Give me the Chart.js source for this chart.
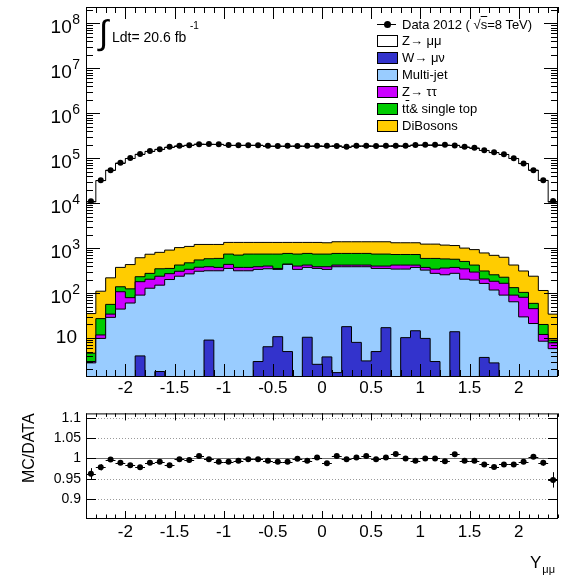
<!DOCTYPE html>
<html>
<head>
<meta charset="utf-8">
<script src="https://cdn.jsdelivr.net/npm/chart.js@4.4.1/dist/chart.umd.min.js"></script>
<style>
  body { margin: 0; background: #fff; font-family: "Liberation Sans", Arial, Helvetica, sans-serif; }
  #wrap { position: relative; width: 562px; height: 580px; overflow: hidden; }
  #mainPlot { position: absolute; left: 0; top: 0; }
  #ratioPlot { position: absolute; left: 0; top: 400px; }
  .txt { position: absolute; white-space: nowrap; color: #000; }
  .entry { position: absolute; left: 377px; height: 17px; width: 180px; font-size: 13px; }
  .entry .box { position: absolute; left: 0; top: 3px; width: 19px; height: 10px; border: 1px solid #000; }
  .entry .lbl { position: absolute; left: 25px; top: 0; line-height: 17px; }
  .ol { text-decoration: overline; }
</style>
</head>
<body>
<div id="wrap">
  <canvas id="mainPlot" width="562" height="400"></canvas>
  <canvas id="ratioPlot" width="562" height="180"></canvas>

  <div class="txt" style="left:99px; top:12px; font-size:34px; line-height:40px;">&#8747;</div>
  <div class="txt" style="left:112px; top:29px; font-size:14px; line-height:17px;">Ldt= 20.6 fb</div>
  <div class="txt" style="left:190px; top:20px; font-size:10px; line-height:12px;">-1</div>

  <div class="entry" style="top:16px;">
    <div style="position:absolute; left:0; top:8px; width:19px; height:1px; background:#000;"></div>
    <div style="position:absolute; left:7px; top:5px; width:7px; height:7px; border-radius:50%; background:#000;"></div>
    <div class="lbl">Data 2012 ( &#8730;<span class="ol">s</span>=8 TeV)</div>
  </div>
  <div class="entry" style="top:32px;"><div class="box" style="background:#ffffff;"></div><div class="lbl">Z&#8594; &#956;&#956;</div></div>
  <div class="entry" style="top:49px;"><div class="box" style="background:#3333cc;"></div><div class="lbl">W&#8594; &#956;&#957;</div></div>
  <div class="entry" style="top:66px;"><div class="box" style="background:#99ccff;"></div><div class="lbl">Multi-jet</div></div>
  <div class="entry" style="top:83px;"><div class="box" style="background:#cc00ff;"></div><div class="lbl">Z&#8594; &#964;&#964;</div></div>
  <div class="entry" style="top:100px;"><div class="box" style="background:#00cc00;"></div><div class="lbl">t<span class="ol">t</span>&amp; single top</div></div>
  <div class="entry" style="top:117px;"><div class="box" style="background:#ffcc00;"></div><div class="lbl">DiBosons</div></div>

  <div class="txt" style="left:530px; top:553px; font-size:17px; line-height:20px;">Y<span style="font-size:11px; position:relative; top:5px; margin-left:1px;">&#956;&#956;</span></div>
</div>

<script>
// Y(mumu) binning: 48 bins of 0.1 between -2.4 and 2.4
const rapidityBins = [-2.4, -2.3, -2.2, -2.1, -2.0, -1.9, -1.8, -1.7, -1.6, -1.5, -1.4, -1.3, -1.2, -1.1, -1.0, -0.9,
  -0.8, -0.7, -0.6, -0.5, -0.4, -0.3, -0.2, -0.1, 0, 0.1, 0.2, 0.3, 0.4, 0.5, 0.6, 0.7, 0.8, 0.9, 1.0, 1.1, 1.2,
  1.3, 1.4, 1.5, 1.6, 1.7, 1.8, 1.9, 2.0, 2.1, 2.2, 2.3, 2.4];

const dataCounts = [11070, 32400, 54100, 78700, 100200, 124500, 143400, 158700, 178300, 187600, 194800, 204100,
  205200, 204300, 195000, 194200, 193900, 194700, 188400, 187500, 188200, 187300, 188000, 187700,
  188100, 187400, 178900, 187800, 188300, 187200, 188000, 187600, 188500, 197200, 198100, 197500,
  197900, 191300, 178900, 169500, 150900, 135600, 122900, 100100, 76300, 54000, 32300, 11090];

const zmumu = [10610, 31580, 53720, 77460, 97870, 121350, 140900, 156430, 174660, 186500, 192630, 204620,
  202990, 201760, 191610, 192000, 192770, 192770, 185440, 185060, 185060, 186380, 185440, 186940,
  184330, 187640, 176860, 186890, 187640, 186140, 186890, 188650, 186590, 195200, 196470, 196470,
  195150, 191770, 176530, 167860, 147660, 132260, 120240, 98080, 75280, 54080, 31930, 10450];

const wmunu = [0, 0, 0, 0, 0, 4.0, 0, 1.8, 0, 0, 0, 0, 9.0, 0, 0, 0, 0, 3.0, 6.4, 10.7, 5.0, 0, 10.4, 2.6,
  3.8, 1.7, 17.9, 8.0, 3.1, 5.0, 17.0, 0, 10.2, 14.5, 9.8, 3.0, 0, 13.8, 0, 0, 3.7, 2.8, 0, 0, 0, 0, 0, 0];

const multijet = [2.8, 9.8, 28.8, 44, 60, 86, 128, 148, 200, 237, 267, 305, 304, 313, 353, 313, 313, 333, 341,
  325, 429, 336, 362, 350, 332, 383, 367, 377, 382, 348, 336, 341, 331, 357, 314, 271, 255, 261, 203, 194,
  160, 114, 90, 64, 29.5, 21, 8.5, 5.8];

const ztautau = [0.2, 1.9, 5.2, 63, 19, 89, 75, 87, 70, 68, 71, 70, 72, 59, 81, 59, 59, 49, 51, 17, 7, 62, 47,
  32, 49, 34, 34, 34, 34, 45, 45, 78, 78, 47, 48, 67, 105, 97, 142, 99, 42, 66, 75, 26, 51, 24, 3.5, 2.0];

const ttbar = [1.6, 15.3, 22, 31, 45, 52, 71, 110, 83, 115, 132, 170, 195, 218, 302, 327, 364, 351, 338, 383,
  320, 338, 342, 351, 351, 342, 342, 342, 342, 338, 338, 301, 301, 301, 217, 248, 215, 193, 160, 126, 104,
  72, 60, 42, 23, 14, 8, 1.2];

const diboson = [30.4, 83, 162, 234, 306, 379, 456, 457, 550, 605, 620, 660, 625, 615, 601, 638, 601, 601, 601,
  601, 576, 601, 576, 601, 578, 622, 622, 622, 622, 647, 647, 594, 594, 594, 638, 638, 591, 575, 495, 506,
  470, 435, 400, 288, 206, 178, 94, 25];

// MC/DATA per bin and its uncertainty
const ratio = [0.962, 0.978, 0.997, 0.989, 0.983, 0.978, 0.989, 0.992, 0.983, 0.998, 0.996, 1.006, 0.998, 0.992,
  0.992, 0.994, 0.998, 0.998, 0.994, 0.992, 0.992, 0.999, 0.994, 1.002, 0.988, 1.006, 0.998, 1.002, 1.006,
  0.998, 1.002, 1.011, 1.000, 0.994, 1.000, 1.000, 0.993, 1.010, 0.994, 0.994, 0.985, 0.979, 0.985, 0.985,
  0.992, 1.004, 0.989, 0.947];

const ratioErr = [0.014, 0.0075, 0.005, 0.004, 0.0035, 0.003, 0.003, 0.003, 0.003, 0.0025, 0.0025, 0.0025,
  0.0025, 0.0025, 0.0025, 0.0025, 0.0025, 0.0025, 0.0025, 0.0025, 0.0025, 0.0025, 0.0025, 0.0025, 0.0025,
  0.0025, 0.0025, 0.0025, 0.0025, 0.0025, 0.0025, 0.0025, 0.0025, 0.0025, 0.0025, 0.0025, 0.0025, 0.0025,
  0.0025, 0.0025, 0.0025, 0.0025, 0.003, 0.003, 0.0035, 0.005, 0.007, 0.019];

const xTickValues = [-2, -1.5, -1, -0.5, 0, 0.5, 1, 1.5, 2];
const yTickValues = [10, 1e2, 1e3, 1e4, 1e5, 1e6, 1e7, 1e8];
const ratioTickValues = [0.9, 0.95, 1, 1.05, 1.1];

const FONT = '"Liberation Sans", Arial, Helvetica, sans-serif';

const binCenters = rapidityBins.slice(0, -1).map((lo, i) => (lo + rapidityBins[i + 1]) / 2);

// histogram outline: one point per lower bin edge, plus the last upper edge
function stepSeries(values) {
  const pts = values.map((v, i) => ({ x: rapidityBins[i], y: v > 0 ? v : 1e-3 }));
  pts.push({ x: rapidityBins[values.length], y: pts[pts.length - 1].y });
  return pts;
}

function histLayer(values, color) {
  return {
    data: stepSeries(values),
    backgroundColor: color,
    borderColor: '#000',
    borderWidth: 1,
    fill: 'start',
    stepped: 'before',
    pointRadius: 0,
    pointHoverRadius: 0,
    clip: 0
  };
}

function markers(values) {
  return {
    data: binCenters.map((x, i) => ({ x: x, y: values[i] })),
    stack: 'data',
    showLine: false,
    pointRadius: 3,
    pointHoverRadius: 0,
    pointBorderWidth: 0,
    pointBackgroundColor: '#000'
  };
}

// ROOT-like frame: box, inward ticks on all four sides, optional reference lines
const histFrame = {
  id: 'histFrame',
  beforeDatasetsDraw(chart, args, opts) {
    if (!opts.grid) return;
    const { ctx, chartArea: a } = chart;
    const ys = chart.scales.y;
    ctx.save();
    opts.grid.forEach(v => {
      const py = Math.round(ys.getPixelForValue(v)) + 0.5;
      ctx.beginPath();
      ctx.lineWidth = 1;
      ctx.strokeStyle = v === 1 ? '#707070' : '#9a9a9a';
      ctx.setLineDash(v === 1 ? [] : [1, 2]);
      ctx.moveTo(a.left, py);
      ctx.lineTo(a.right, py);
      ctx.stroke();
    });
    ctx.restore();
  },
  afterDraw(chart, args, opts) {
    const { ctx, chartArea: a } = chart;
    const xs = chart.scales.x, ys = chart.scales.y;
    ctx.save();
    ctx.strokeStyle = '#000';
    ctx.lineWidth = 1;
    ctx.beginPath();

    const xTick = (v, len) => {
      const px = Math.round(xs.getPixelForValue(v)) + 0.5;
      ctx.moveTo(px, a.bottom); ctx.lineTo(px, a.bottom - len);
      ctx.moveTo(px, a.top); ctx.lineTo(px, a.top + len);
    };
    const yTick = (v, len) => {
      const py = Math.round(ys.getPixelForValue(v)) + 0.5;
      ctx.moveTo(a.left, py); ctx.lineTo(a.left + len, py);
      ctx.moveTo(a.right, py); ctx.lineTo(a.right - len, py);
    };

    opts.xMinor.forEach(v => xTick(v, opts.xMinorLen));
    opts.xMajor.forEach(v => xTick(v, opts.xMajorLen));

    if (opts.logY) {
      const k0 = Math.floor(Math.log10(ys.min)), k1 = Math.ceil(Math.log10(ys.max));
      for (let k = k0; k <= k1; k++) {
        for (let m = 1; m <= 9; m++) {
          const v = m * Math.pow(10, k);
          if (v < ys.min || v > ys.max) continue;
          yTick(v, m === 1 ? opts.yMajorLen : opts.yMinorLen);
        }
      }
    } else {
      opts.yMajor.forEach(v => yTick(v, opts.yMajorLen));
    }
    ctx.stroke();

    ctx.strokeRect(a.left + 0.5, a.top + 0.5, a.right - a.left - 1, a.bottom - a.top);

    // powers of ten on the log axis
    if (opts.powerLabels) {
      ctx.fillStyle = '#000';
      ctx.textBaseline = 'middle';
      ctx.textAlign = 'right';
      const edge = a.left - 6;
      opts.powerLabels.forEach(v => {
        const py = ys.getPixelForValue(v);
        const k = Math.round(Math.log10(v));
        if (k === 1) {
          ctx.font = '19px ' + FONT;
          ctx.fillText('10', edge - 3, py);
          return;
        }
        ctx.font = '14px ' + FONT;
        const ew = ctx.measureText(String(k)).width;
        ctx.fillText(String(k), edge, py - 3);
        ctx.font = '19px ' + FONT;
        ctx.fillText('10', edge - ew - 0.5, py + 4.5);
      });
    }
    ctx.restore();
  }
};

// horizontal bars over the bin width, vertical bars from the uncertainty
const errorBars = {
  id: 'errorBars',
  afterDatasetsDraw(chart, args, opts) {
    const { ctx } = chart;
    const xs = chart.scales.x, ys = chart.scales.y;
    ctx.save();
    ctx.strokeStyle = '#000';
    ctx.lineWidth = 1;
    ctx.beginPath();
    opts.values.forEach((v, i) => {
      const py = Math.round(ys.getPixelForValue(v)) + 0.5;
      ctx.moveTo(xs.getPixelForValue(rapidityBins[i]), py);
      ctx.lineTo(xs.getPixelForValue(rapidityBins[i + 1]), py);
      if (opts.errors) {
        const px = Math.round(xs.getPixelForValue(binCenters[i])) + 0.5;
        ctx.moveTo(px, ys.getPixelForValue(v - opts.errors[i]));
        ctx.lineTo(px, ys.getPixelForValue(v + opts.errors[i]));
      }
    });
    ctx.stroke();
    ctx.restore();
  }
};

const xAxis = (height, pad) => ({
  type: 'linear',
  min: -2.4,
  max: 2.4,
  grid: { display: false, drawTicks: false },
  border: { display: false },
  afterBuildTicks: s => { s.ticks = xTickValues.map(value => ({ value })); },
  afterFit: s => { s.height = height; },
  ticks: {
    font: { family: FONT, size: 17 },
    color: '#000',
    padding: pad,
    maxRotation: 0,
    autoSkip: false,
    callback: v => String(v)
  }
});

new Chart(document.getElementById('mainPlot'), {
  type: 'line',
  data: {
    datasets: [
      markers(dataCounts),
      histLayer(wmunu, '#3333cc'),
      histLayer(multijet, '#99ccff'),
      histLayer(ztautau, '#cc00ff'),
      histLayer(ttbar, '#00cc00'),
      histLayer(diboson, '#ffcc00'),
      histLayer(zmumu, '#ffffff')
    ]
  },
  options: {
    responsive: false,
    animation: false,
    events: [],
    layout: { padding: { top: 7, right: 4, left: 0, bottom: 0 } },
    scales: {
      x: xAxis(24, 2),
      y: {
        type: 'logarithmic',
        stacked: true,
        min: 1.43,
        max: 2.3e8,
        grid: { display: false, drawTicks: false },
        border: { display: false },
        ticks: { display: false },
        afterFit: s => { s.width = 86; }
      }
    },
    plugins: {
      legend: { display: false },
      tooltip: { enabled: false },
      histFrame: {
        xMajor: xTickValues, xMinor: rapidityBins, xMajorLen: 12, xMinorLen: 6,
        logY: true, yMajorLen: 14, yMinorLen: 7, powerLabels: yTickValues
      },
      errorBars: { values: dataCounts }
    }
  },
  plugins: [histFrame, errorBars]
});

new Chart(document.getElementById('ratioPlot'), {
  type: 'line',
  data: { datasets: [markers(ratio)] },
  options: {
    responsive: false,
    animation: false,
    events: [],
    layout: { padding: { top: 6, right: 4, left: 0, bottom: 0 } },
    scales: {
      x: xAxis(62, 4),
      y: {
        type: 'linear',
        min: 0.853,
        max: 1.111,
        grid: { display: false, drawTicks: false },
        border: { display: false },
        afterBuildTicks: s => { s.ticks = ratioTickValues.map(value => ({ value })); },
        afterFit: s => { s.width = 86; },
        ticks: {
          font: { family: FONT, size: 14 },
          color: '#000',
          padding: 5,
          callback: v => String(v)
        },
        title: {
          display: true,
          text: 'MC/DATA',
          align: 'end',
          color: '#000',
          font: { family: FONT, size: 16 },
          padding: { top: 20, bottom: 0 }
        }
      }
    },
    plugins: {
      legend: { display: false },
      tooltip: { enabled: false },
      histFrame: {
        xMajor: xTickValues, xMinor: rapidityBins, xMajorLen: 7, xMinorLen: 3.5,
        yMajor: ratioTickValues, yMajorLen: 10, grid: ratioTickValues
      },
      errorBars: { values: ratio, errors: ratioErr }
    }
  },
  plugins: [histFrame, errorBars]
});
</script>
</body>
</html>
